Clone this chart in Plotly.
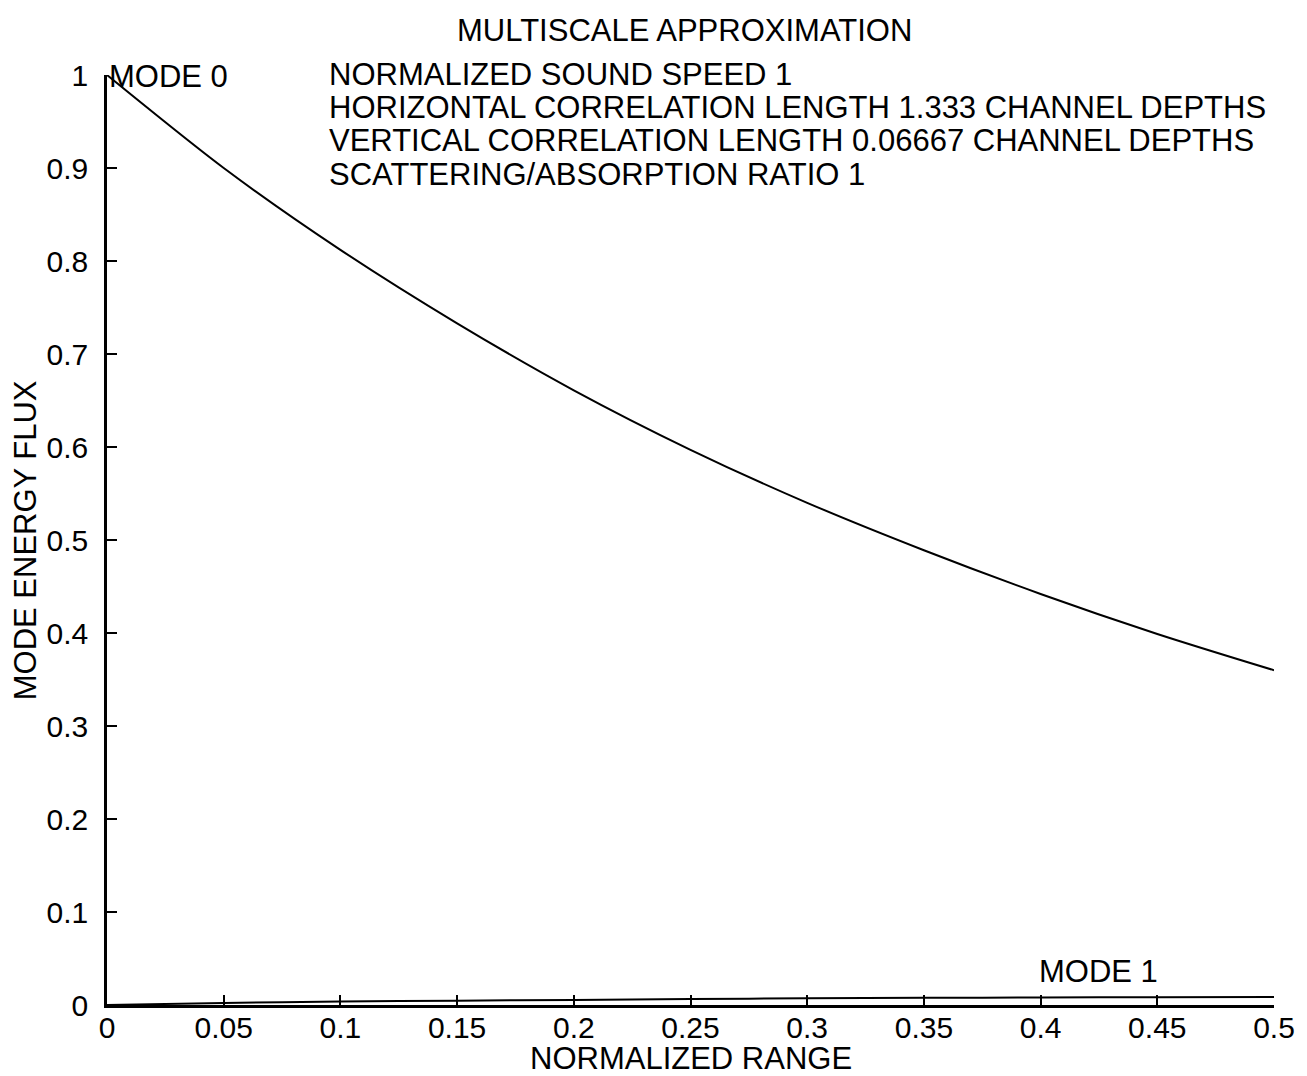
import plotly.graph_objects as go

# ---- data ----
normalized_range = [0.0, 0.05, 0.10, 0.15, 0.20, 0.25, 0.30, 0.35, 0.40, 0.45, 0.50]
mode0_flux = [1.000, 0.900, 0.812, 0.733, 0.661, 0.597, 0.540, 0.489, 0.442, 0.399, 0.360]
mode1_flux = [0.000, 0.0022, 0.0038, 0.0047, 0.0055, 0.0064, 0.0072, 0.0077, 0.0081, 0.0084, 0.0087]

x_ticks = [0, 0.05, 0.1, 0.15, 0.2, 0.25, 0.3, 0.35, 0.4, 0.45, 0.5]
x_tick_text = ["0", "0.05", "0.1", "0.15", "0.2", "0.25", "0.3", "0.35", "0.4", "0.45", "0.5"]
y_ticks = [0, 0.1, 0.2, 0.3, 0.4, 0.5, 0.6, 0.7, 0.8, 0.9, 1]
y_tick_text = ["0", "0.1", "0.2", "0.3", "0.4", "0.5", "0.6", "0.7", "0.8", "0.9", "1"]

title_text = "MULTISCALE APPROXIMATION"
info_lines = [
    "NORMALIZED SOUND SPEED 1",
    "HORIZONTAL CORRELATION LENGTH 1.333 CHANNEL DEPTHS",
    "VERTICAL CORRELATION LENGTH 0.06667 CHANNEL DEPTHS",
    "SCATTERING/ABSORPTION RATIO 1",
]
x_title = "NORMALIZED RANGE"
y_title = "MODE ENERGY FLUX"

# ---- layout geometry (pixels) ----
W, H = 1307, 1076
ML, MR, MT, MB = 107, 29, 75, 71
PW = W - ML - MR
PH = H - MT - MB

def px(x):
    return (x - ML) / PW

def py(y):
    return (H - MB - y) / PH

FONT = "Liberation Sans, Arial, Helvetica, sans-serif"
FS = 31
TFS = 30

fig = go.Figure()
fig.add_trace(go.Scatter(x=normalized_range, y=mode0_flux, mode="lines",
                         line=dict(color="black", width=2, shape="spline", smoothing=0.8),
                         showlegend=False, hoverinfo="skip"))
fig.add_trace(go.Scatter(x=normalized_range, y=mode1_flux, mode="lines",
                         line=dict(color="black", width=2, shape="spline", smoothing=0.8),
                         showlegend=False, hoverinfo="skip"))

annotations = []
annotations.append(dict(text=title_text, x=px(686), y=py(30), xref="paper", yref="paper",
                        xanchor="center", yanchor="middle", showarrow=False,
                        font=dict(family=FONT, size=FS, color="black")))
line_y = [74, 107, 140, 174]
for t, yy in zip(info_lines, line_y):
    annotations.append(dict(text=t, x=px(328), y=py(yy), xref="paper", yref="paper",
                            xanchor="left", yanchor="middle", showarrow=False,
                            font=dict(family=FONT, size=FS, color="black")))
annotations.append(dict(text="MODE 0", x=px(107), y=py(76), xref="paper", yref="paper",
                        xanchor="left", yanchor="middle", showarrow=False,
                        font=dict(family=FONT, size=FS, color="black")))
annotations.append(dict(text="MODE 1", x=px(1040), y=py(971), xref="paper", yref="paper",
                        xanchor="left", yanchor="middle", showarrow=False,
                        font=dict(family=FONT, size=FS, color="black")))
annotations.append(dict(text=x_title, x=px(693), y=py(1058), xref="paper", yref="paper",
                        xanchor="center", yanchor="middle", showarrow=False,
                        font=dict(family=FONT, size=FS, color="black")))
annotations.append(dict(text=y_title, x=px(25), y=py(540), xref="paper", yref="paper",
                        xanchor="center", yanchor="middle", showarrow=False, textangle=-90,
                        font=dict(family=FONT, size=31, color="black")))

fig.update_layout(
    width=W, height=H,
    margin=dict(l=ML, r=MR, t=MT, b=MB, pad=0),
    paper_bgcolor="white", plot_bgcolor="white",
    annotations=annotations,
    xaxis=dict(range=[0, 0.5], tickvals=x_ticks, ticktext=x_tick_text,
               showgrid=False, zeroline=False, showline=True, linecolor="black", linewidth=2.5,
               ticks="inside", ticklen=10, tickwidth=2, tickcolor="black",
               tickfont=dict(family=FONT, size=TFS, color="black"), ticklabelstandoff=-6),
    yaxis=dict(range=[0, 1], tickvals=y_ticks, ticktext=y_tick_text,
               showgrid=False, zeroline=False, showline=True, linecolor="black", linewidth=2.5,
               ticks="inside", ticklen=10, tickwidth=2, tickcolor="black",
               tickfont=dict(family=FONT, size=TFS, color="black"), ticklabelstandoff=10),
)

fig.write_html("out.html")
